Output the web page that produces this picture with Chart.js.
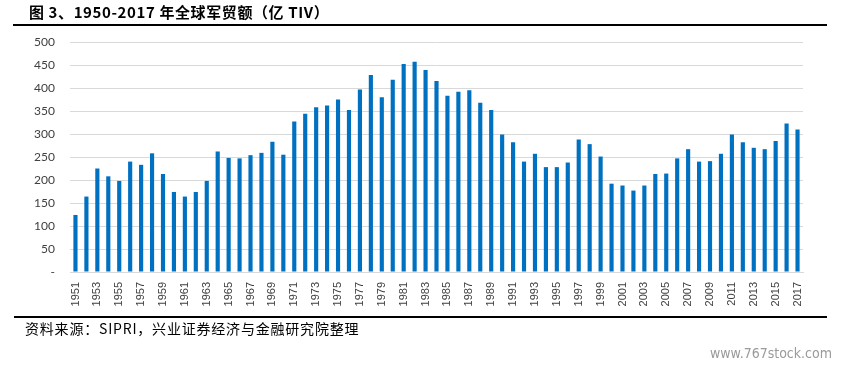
<!DOCTYPE html>
<html>
<head>
<meta charset="utf-8">
<script src="https://cdn.jsdelivr.net/npm/chart.js@4/dist/chart.umd.min.js"></script>
<style>
  html, body { margin: 0; padding: 0; background: #fff; }
  #wrap { position: relative; width: 845px; height: 367px; overflow: hidden; }
  #chart { position: absolute; left: 0; top: 0; }
  .title {
    position: absolute; left: 29px; top: 1px; line-height: 22px;
    font-family: "Noto Sans CJK SC", sans-serif; font-weight: bold;
    font-size: 15px; letter-spacing: 0.6px; color: #000; white-space: nowrap;
  }
  .rule { position: absolute; height: 2px; background: #000; }
  .source {
    position: absolute; left: 25px; top: 318px; line-height: 20px;
    font-family: "Noto Sans CJK SC", sans-serif; font-size: 14px;
    letter-spacing: 0.8px; color: #000; white-space: nowrap;
  }
  .mark {
    position: absolute; right: 13px; top: 345px;
    font-family: "Liberation Sans Narrow", "DejaVu Sans Condensed", sans-serif;
    font-size: 14px; color: #9a9a9a; white-space: nowrap;
  }
</style>
</head>
<body>
<div id="wrap">
  <canvas id="chart" width="845" height="367"></canvas>
  <div class="title">图 3、1950-2017 年全球军贸额（亿 TIV）</div>
  <div class="rule" style="left:13px; top:24px; width:814px;"></div>
  <div class="rule" style="left:14px; top:316px; width:813px;"></div>
  <div class="source">资料来源：SIPRI，兴业证券经济与金融研究院整理</div>
  <div class="mark">www.767stock.com</div>
</div>

<script>
// ── DATA ─────────────────────────────────────────────
// Years 1951 – 2017 (亿 TIV)
const years = [];
for (let y = 1951; y <= 2017; y++) years.push(String(y));

const tradeValues = [
  124, 164, 225, 208, 198, 240, 233, 258, 213, 174,   // 1951-1960
  164, 174, 198, 262, 248, 247, 254, 259, 283, 255,   // 1961-1970
  327, 344, 358, 362, 375, 352, 397, 428, 380, 418,   // 1971-1980
  452, 457, 439, 415, 383, 392, 395, 368, 352, 299,   // 1981-1990
  282, 240, 257, 228, 228, 238, 288, 278, 251, 192,   // 1991-2000
  188, 177, 188, 213, 214, 247, 267, 240, 241, 257,   // 2001-2010
  299, 282, 270, 267, 285, 323, 310                   // 2011-2017
];

const yTicks = [0, 50, 100, 150, 200, 250, 300, 350, 400, 450, 500];

// ── BUILD CHART ──────────────────────────────────────
function buildChart() {
  const ctx = document.getElementById('chart').getContext('2d');

  new Chart(ctx, {
    type: 'bar',
    data: {
      labels: years,
      datasets: [{
        data: tradeValues,
        backgroundColor: '#0070c0',
        borderWidth: 0,
        barPercentage: 0.38,
        categoryPercentage: 1.0
      }]
    },
    options: {
      responsive: false,
      animation: false,
      layout: { padding: { left: 0, top: 42, right: 42, bottom: 55 } },
      plugins: { legend: { display: false }, tooltip: { enabled: false } },
      scales: {
        x: {
          afterFit: s => { s.height = 40; },
          grid: { display: false, drawTicks: false },
          border: { color: '#d9d9d9' },
          ticks: {
            autoSkip: false,
            maxRotation: 90, minRotation: 90,
            padding: 10,
            color: '#404040',
            font: { family: 'Liberation Sans', size: 11 },
            // only every other year is labelled
            callback: function(value, i) { return i % 2 === 0 ? years[i] : ''; }
          }
        },
        y: {
          min: 0, max: 500,
          afterFit: s => { s.width = 70; },
          afterBuildTicks: s => { s.ticks = yTicks.map(v => ({ value: v })); },
          grid: { color: '#d9d9d9', drawTicks: false },
          border: { display: false },
          ticks: {
            padding: 15,
            color: '#404040',
            font: { family: 'Lato', size: 12 },
            callback: function(value) { return value === 0 ? '-' : value; }
          }
        }
      }
    }
  });
}

window.onload = buildChart;
</script>
</body>
</html>
